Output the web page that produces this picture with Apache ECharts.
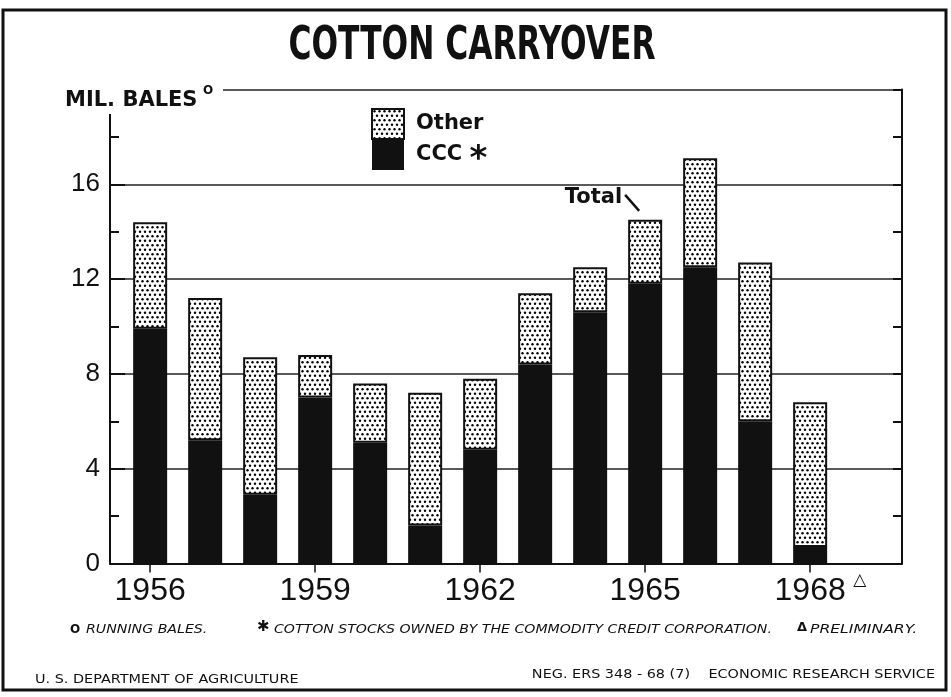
<!DOCTYPE html>
<html>
<head>
<meta charset="utf-8">
<script src="https://cdn.jsdelivr.net/npm/echarts@6/dist/echarts.min.js"></script>
<style>
html, body { margin: 0; background: #fff; }
#chart { width: 951px; height: 697px; }
</style>
</head>
<body>
<div id="chart"></div>
<script>
// values, million running bales
var years = [1956, 1957, 1958, 1959, 1960, 1961, 1962, 1963, 1964, 1965, 1966, 1967, 1968];
var cccValues = [9.9, 5.2, 2.9, 7.0, 5.1, 1.6, 4.8, 8.4, 10.6, 11.8, 12.5, 6.0, 0.7];
var otherValues = [4.5, 6.0, 5.8, 1.8, 2.5, 5.6, 3.0, 3.0, 1.9, 2.7, 4.6, 6.7, 6.1];
var yearLabels = [1956, 1959, 1962, 1965, 1968];

// dotted screen for the "Other" part
function dotPattern() {
    var c = document.createElement('canvas');
    c.width = 10;
    c.height = 9;
    var ctx = c.getContext('2d');
    ctx.fillStyle = '#fff';
    ctx.fillRect(0, 0, 10, 9);
    ctx.fillStyle = '#000';
    [[2.5, 2.25], [7.5, 2.25], [0, 6.75], [5, 6.75], [10, 6.75]].forEach(function (p) {
        ctx.beginPath();
        ctx.arc(p[0], p[1], 1.2, 0, Math.PI * 2);
        ctx.fill();
    });
    return c;
}

var chart = echarts.init(document.getElementById('chart'));
var ink = '#111';

// value first, year second, so the stack runs along y
function pairs(vals) {
    return years.map(function (y, i) { return [vals[i], y]; });
}

var option = {
    backgroundColor: '#fff',
    animation: false,
    grid: { left: 110, right: 49, top: 89.5, bottom: 133.5 },
    legend: {
        data: ['Other', 'CCC'],
        orient: 'vertical',
        left: 366,
        top: 103,
        itemGap: 0,
        itemWidth: 32,
        itemHeight: 30,
        icon: 'rect',
        textStyle: {
            fontFamily: 'DejaVu Sans',
            fontWeight: 'bold',
            fontSize: 21,
            color: ink,
            padding: [0, 0, 0, 7],
            rich: { star: { fontSize: 34, fontWeight: 'bold', color: ink, padding: [10, 0, 0, 0] } }
        },
        formatter: function (name) {
            return name === 'CCC' ? 'CCC {star|*}' : name;
        }
    },
    xAxis: {
        type: 'value',
        min: 1955.27,
        max: 1969.67,
        axisLine: { lineStyle: { color: ink, width: 2 } },
        axisTick: { customValues: yearLabels, length: 9, lineStyle: { color: ink, width: 1.5 } },
        axisLabel: {
            customValues: yearLabels,
            margin: 12,
            fontFamily: 'Liberation Sans',
            fontSize: 32,
            color: ink,
            formatter: function (v) { return String(v); }
        },
        splitLine: { show: false }
    },
    yAxis: [{
        type: 'value',
        min: 0,
        max: 20,
        interval: 4,
        axisLine: { show: true, lineStyle: { color: ink, width: 2 } },
        axisTick: { inside: true, length: 15, lineStyle: { color: ink, width: 2 } },
        minorTick: { show: true, splitNumber: 2, length: 9, lineStyle: { color: ink, width: 2 } },
        axisLabel: {
            margin: 10,
            fontFamily: 'Liberation Sans',
            fontSize: 26,
            color: ink,
            formatter: function (v) { return v === 20 ? '' : v; }
        },
        splitLine: { show: true, lineStyle: { color: '#222', width: 1.6 } }
    }, {
        type: 'value',
        position: 'right',
        min: 0,
        max: 20,
        interval: 2,
        axisLine: { show: true, lineStyle: { color: ink, width: 2 } },
        axisTick: { inside: true, length: 9, lineStyle: { color: ink, width: 2 } },
        axisLabel: { show: false },
        splitLine: { show: false }
    }],
    series: [{
        name: 'CCC',
        type: 'bar',
        stack: 'carryover',
        barWidth: 34,
        encode: { x: 1, y: 0 },
        itemStyle: { color: ink },
        data: pairs(cccValues)
    }, {
        name: 'Other',
        type: 'bar',
        stack: 'carryover',
        barWidth: 34,
        encode: { x: 1, y: 0 },
        itemStyle: {
            color: { image: dotPattern(), repeat: 'repeat' },
            borderColor: ink,
            borderWidth: 2
        },
        data: pairs(otherValues)
    }]
};
chart.setOption(option);

// annotations placed from the chart's own scale
var totalPt = chart.convertToPixel({ gridIndex: 0 }, [1965, cccValues[9] + otherValues[9]]);
var lastTick = chart.convertToPixel({ gridIndex: 0 }, [1968, 0]);
var note = 'italic 12px "DejaVu Sans"';
var foot = '12px "DejaVu Sans"';

chart.setOption({
    graphic: [
        { type: 'rect', z: 100, shape: { x: 3, y: 10, width: 943, height: 680 },
          style: { fill: 'none', stroke: ink, lineWidth: 3 } },
        { type: 'text', z: 100, x: 472, y: 23, scaleX: 0.74,
          style: { text: 'COTTON CARRYOVER', font: 'bold 47px "DejaVu Sans Condensed"', fill: ink, textAlign: 'center' } },
        { type: 'rect', z: 90, shape: { x: 60, y: 78, width: 163, height: 36 }, style: { fill: '#fff' } },
        { type: 'text', z: 100, x: 65, y: 90,
          style: { text: 'MIL. BALES', font: 'bold 21px "DejaVu Sans"', fill: ink } },
        { type: 'text', z: 100, x: 203, y: 85,
          style: { text: 'O', font: 'bold 12px "DejaVu Sans"', fill: ink } },
        { type: 'text', z: 100, x: totalPt[0] - 23, y: totalPt[1] - 33,
          style: { text: 'Total', font: 'bold 21px "DejaVu Sans"', fill: ink, textAlign: 'right' } },
        { type: 'line', z: 100, shape: { x1: totalPt[0] - 20, y1: totalPt[1] - 25, x2: totalPt[0] - 6, y2: totalPt[1] - 9 },
          style: { stroke: ink, lineWidth: 2.5 } },
        { type: 'text', z: 100, x: lastTick[0] + 43, y: lastTick[1] + 9,
          style: { text: '\u25B3', font: 'bold 17px "DejaVu Sans"', fill: ink } },
        { type: 'text', z: 100, x: 70, y: 624,
          style: { text: 'O', font: 'bold 12px "DejaVu Sans"', fill: ink } },
        { type: 'text', z: 100, x: 86, y: 624, scaleX: 1.18,
          style: { text: 'RUNNING BALES.', font: note, fill: ink } },
        { type: 'text', z: 100, x: 257, y: 620,
          style: { text: '\u2731', font: 'bold 15px "DejaVu Sans"', fill: ink } },
        { type: 'text', z: 100, x: 274, y: 624, scaleX: 1.175,
          style: { text: 'COTTON STOCKS OWNED BY THE COMMODITY CREDIT CORPORATION.', font: note, fill: ink } },
        { type: 'text', z: 100, x: 797, y: 621,
          style: { text: '\u0394', font: 'bold 13px "DejaVu Sans"', fill: ink } },
        { type: 'text', z: 100, x: 810, y: 624, scaleX: 1.3,
          style: { text: 'PRELIMINARY.', font: note, fill: ink } },
        { type: 'text', z: 100, x: 35, y: 674, scaleX: 1.2,
          style: { text: 'U. S. DEPARTMENT OF AGRICULTURE', font: foot, fill: ink } },
        { type: 'text', z: 100, x: 690, y: 669, scaleX: 1.2,
          style: { text: 'NEG. ERS 348 - 68 (7)', font: foot, fill: ink, textAlign: 'right' } },
        { type: 'text', z: 100, x: 935, y: 669, scaleX: 1.2,
          style: { text: 'ECONOMIC RESEARCH SERVICE', font: foot, fill: ink, textAlign: 'right' } }
    ]
});
</script>
</body>
</html>
